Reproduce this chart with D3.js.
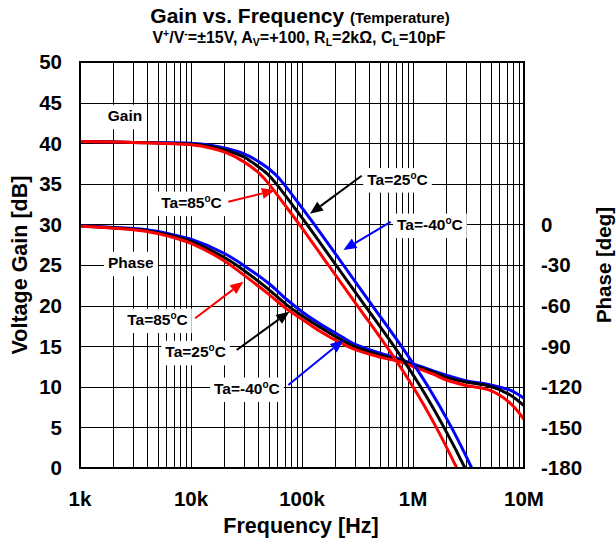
<!DOCTYPE html>
<html>
<head>
<meta charset="utf-8">
<script src="https://cdn.jsdelivr.net/npm/d3@7"></script>
<style>
  body { margin: 0; background: #fff; }
  text { font-family: Arial, "Liberation Sans", sans-serif; font-weight: bold; fill: #000; }
</style>
</head>
<body>
<div id="chart"></div>
<script>
// values
var xTicks = [1e3, 1e4, 1e5, 1e6, 1e7];
var xTickLabels = ["1k", "10k", "100k", "1M", "10M"];
var gainTicks = [0, 5, 10, 15, 20, 25, 30, 35, 40, 45, 50];
var phaseTicks = [0, -30, -60, -90, -120, -150, -180];

// gain curves (Hz, dB)
var gainFreq85 = [1e3, 3e3, 1e4, 1.5e4, 2.1e4, 3e4, 4.19e4, 5.08e4, 7e4, 9.46e4, 1.726e5, 3.15e5, 5.75e5, 1e6, 1.62e6, 2.48e6, 2.75e6];
var gain85 = [40.2, 40.1, 39.8, 39.4, 38.8, 37.7, 36.2, 34.9, 32.4, 30.0, 25.0, 20.0, 15.0, 10.0, 5.0, 0.0, -1.3];
var gainFreq25 = [1e3, 3e3, 1e4, 1.5e4, 2.1e4, 3e4, 3.51e4, 4.9e4, 5.94e4, 8.19e4, 1.107e5, 2.02e5, 3.69e5, 6.73e5, 1.17e6, 1.9e6, 2.94e6, 3.25e6];
var gain25 = [40.2, 40.1, 39.9, 39.6, 39.1, 38.3, 37.7, 36.2, 34.9, 32.4, 30.0, 25.0, 20.0, 15.0, 10.0, 5.0, 0.0, -1.3];
var gainFreqM40 = [1e3, 3e3, 1e4, 1.5e4, 2.1e4, 2.87e4, 4.1e4, 5.72e4, 6.93e4, 9.55e4, 1.29e5, 2.36e5, 4.3e5, 7.85e5, 1.37e6, 2.22e6, 3.38e6, 3.7e6];
var gainM40 = [40.2, 40.1, 40.0, 39.75, 39.35, 38.8, 37.7, 36.2, 34.9, 32.4, 30.0, 25.0, 20.0, 15.0, 10.0, 5.0, 0.0, -1.2];

// phase curves (Hz, deg)
var phaseFreq = [1e3, 2e3, 4e3, 6.5e3, 1e4, 2e4, 3e4, 5e4, 7.28e4, 1e5, 1.45e5, 2.28e5, 2.9e5, 5e5, 7.63e5, 1e6, 1.5e6, 2e6, 3e6, 4.9e6, 7.5e6, 1e7];
var phase85 = [-1.3, -2.8, -5.2, -9, -14, -27, -37.5, -51.5, -62.5, -70, -79, -88, -92, -98, -101.5, -105, -110.5, -115, -119, -122.5, -132, -144];
var phase25 = [-1.1, -2.5, -4.6, -8, -12.5, -24.5, -34, -48, -59.5, -67.5, -76, -85.5, -90, -96.5, -100.5, -104, -109, -113, -116.5, -119.5, -126, -134];
var phaseM40 = [-1, -2.2, -4, -7.2, -11, -21.5, -30.5, -43.5, -55.5, -64.5, -73.5, -83, -88, -95, -99.5, -103, -108, -111.5, -115.5, -118.5, -122.5, -128.5];

var seriesColors = ["#0000ff", "#000000", "#ff0000"];

// annotations: position in (Hz, dB on left axis)
var notes = [
  {text: "Gain", f: 2.54e3, db: 42.7},
  {text: "Phase", f: 2.87e3, db: 24.6},
  {text: "Ta=85", deg: true, color: "#ff0000", f: 1.01e4, db: 32.0, from: [2.17e4, 32.8], tip: [5.71e4, 34.2]},
  {text: "Ta=25", deg: true, color: "#000000", f: 7.25e5, db: 34.9, from: [3.45e5, 36.0], tip: [1.18e5, 31.3]},
  {text: "Ta=-40", deg: true, color: "#0000ff", f: 1.42e6, db: 29.3, from: [6.3e5, 30.3], tip: [2.36e5, 26.85]},
  {text: "Ta=85", deg: true, color: "#ff0000", f: 4.99e3, db: 17.6, from: [1.09e4, 18.44], tip: [2.96e4, 22.94]},
  {text: "Ta=25", deg: true, color: "#000000", f: 1.1e4, db: 13.63, from: [2.58e4, 14.53], tip: [7.69e4, 19.25]},
  {text: "Ta=-40", deg: true, color: "#0000ff", f: 3.19e4, db: 9.11, from: [7.53e4, 10.22], tip: [2.36e5, 15.76]}
];

var svgWidth = 616;
var svgHeight = 545;
var margin = {top: 62, right: 92, bottom: 77, left: 80};
var width = svgWidth - margin.left - margin.right;
var height = svgHeight - margin.top - margin.bottom;

var svg = d3.select("#chart")
  .append("svg")
  .attr("width", svgWidth)
  .attr("height", svgHeight);

var x = d3.scaleLog().domain([1e3, 1e7]).range([0, width]);
var yGain = d3.scaleLinear().domain([0, 50]).range([height, 0]);
// phase axis: -180 deg sits on 0 dB, 0 deg on 30 dB
var yPhase = d3.scaleLinear().domain([-180, 120]).range([height, 0]);

// title
var title = svg.append("text")
  .attr("x", 300)
  .attr("y", 23)
  .attr("text-anchor", "middle");
title.append("tspan").attr("font-size", "21px").text("Gain vs. Frequency ");
title.append("tspan").attr("font-size", "15px").text("(Temperature)");

function richText(sel, parts) {
  var cur = 0;
  parts.forEach(function(p) {
    var target = p[1] == 1 ? -6 : (p[1] == -1 ? 3 : 0);
    sel.append("tspan")
      .attr("dy", target - cur)
      .attr("font-size", p[1] ? "10.5px" : null)
      .text(p[0]);
    cur = target;
  });
}

var sub = svg.append("text")
  .attr("x", 299)
  .attr("y", 43)
  .attr("text-anchor", "middle")
  .attr("font-size", "16px");
richText(sub, [["V", 0], ["+", 1], ["/V", 0], ["-", 1], ["=\u00b115V, A", 0], ["V", -1],
  ["=+100, R", 0], ["L", -1], ["=2k\u03a9, C", 0], ["L", -1], ["=10pF", 0]]);

var chartGroup = svg.append("g")
  .attr("transform", `translate(${margin.left}, ${margin.top})`);

svg.append("defs").append("clipPath").attr("id", "plotclip")
  .append("rect").attr("width", width).attr("height", height);

// grid
var minor = [];
[1e3, 1e4, 1e5, 1e6].forEach(function(d) {
  for (var k = 1; k < 10; k++) minor.push(d * k);
});
minor.push(1e7);

chartGroup.append("g").selectAll("line")
  .data(minor)
  .enter()
  .append("line")
  .attr("x1", d => Math.round(x(d)) + 0.5)
  .attr("x2", d => Math.round(x(d)) + 0.5)
  .attr("y1", 0)
  .attr("y2", height)
  .attr("stroke", "#000")
  .attr("stroke-width", 1);

chartGroup.append("g").selectAll("line")
  .data(gainTicks)
  .enter()
  .append("line")
  .attr("x1", 0)
  .attr("x2", width)
  .attr("y1", d => Math.round(yGain(d)) + 0.5)
  .attr("y2", d => Math.round(yGain(d)) + 0.5)
  .attr("stroke", "#000")
  .attr("stroke-width", 1);

// annotation labels with white boxes
var noteGroup = chartGroup.append("g");
notes.forEach(function(n) {
  var g = noteGroup.append("g");
  var t = g.append("text")
    .attr("x", x(n.f))
    .attr("y", yGain(n.db))
    .attr("text-anchor", "middle")
    .attr("font-size", "15.5px");
  t.append("tspan").text(n.text);
  if (n.deg) {
    t.append("tspan").attr("dy", -6).attr("font-size", "10px").text("o");
    t.append("tspan").attr("dy", 6).text("C");
  }
  var bb = t.node().getBBox();
  g.insert("rect", "text")
    .attr("x", bb.x - 4)
    .attr("y", yGain(n.db) - 16.5)
    .attr("width", bb.width + 8)
    .attr("height", 24.5)
    .attr("fill", "#fff");
});

// curves
var plot = chartGroup.append("g").attr("clip-path", "url(#plotclip)");

function drawCurve(freqs, vals, scale, color) {
  var line = d3.line()
    .x(d => x(d[0]))
    .y(d => scale(d[1]))
    .curve(d3.curveCatmullRom.alpha(0.5));
  plot.append("path")
    .datum(freqs.map((f, i) => [f, vals[i]]))
    .attr("d", line)
    .attr("fill", "none")
    .attr("stroke", color)
    .attr("stroke-width", 3)
    .attr("stroke-linejoin", "round");
}

drawCurve(phaseFreq, phaseM40, yPhase, seriesColors[0]);
drawCurve(phaseFreq, phase25, yPhase, seriesColors[1]);
drawCurve(phaseFreq, phase85, yPhase, seriesColors[2]);
drawCurve(gainFreqM40, gainM40, yGain, seriesColors[0]);
drawCurve(gainFreq25, gain25, yGain, seriesColors[1]);
drawCurve(gainFreq85, gain85, yGain, seriesColors[2]);

// arrows
notes.filter(n => n.tip).forEach(function(n) {
  var x0 = x(n.from[0]), y0 = yGain(n.from[1]);
  var x1 = x(n.tip[0]), y1 = yGain(n.tip[1]);
  var dx = x1 - x0, dy = y1 - y0, len = Math.sqrt(dx * dx + dy * dy);
  var ux = dx / len, uy = dy / len;
  var hl = 13, hw = 5.5;
  var bx = x1 - ux * hl, by = y1 - uy * hl;
  chartGroup.append("line")
    .attr("x1", x0).attr("y1", y0)
    .attr("x2", bx).attr("y2", by)
    .attr("stroke", n.color)
    .attr("stroke-width", 2);
  chartGroup.append("path")
    .attr("d", `M${x1},${y1}L${bx - uy * hw},${by + ux * hw}L${bx + uy * hw},${by - ux * hw}Z`)
    .attr("fill", n.color);
});

// frame
chartGroup.append("rect")
  .attr("width", width)
  .attr("height", height)
  .attr("fill", "none")
  .attr("stroke", "#000")
  .attr("stroke-width", 2);

// axes labels
chartGroup.selectAll(".xlab")
  .data(xTicks)
  .enter()
  .append("text")
  .attr("x", d => x(d))
  .attr("y", height + 38)
  .attr("text-anchor", "middle")
  .attr("font-size", "20.5px")
  .text((d, i) => xTickLabels[i]);

chartGroup.selectAll(".ylab")
  .data(gainTicks)
  .enter()
  .append("text")
  .attr("x", -18)
  .attr("y", d => yGain(d))
  .attr("dy", "0.36em")
  .attr("text-anchor", "end")
  .attr("font-size", "20.5px")
  .text(d => d);

chartGroup.selectAll(".plab")
  .data(phaseTicks)
  .enter()
  .append("text")
  .attr("x", width + 17)
  .attr("y", d => yPhase(d))
  .attr("dy", "0.36em")
  .attr("text-anchor", "start")
  .attr("font-size", "20.5px")
  .text(d => d);

svg.append("text")
  .attr("x", 301)
  .attr("y", 533)
  .attr("text-anchor", "middle")
  .attr("font-size", "21.5px")
  .text("Frequency [Hz]");

svg.append("text")
  .attr("transform", "rotate(-90)")
  .attr("x", -(margin.top + height / 2))
  .attr("y", 27)
  .attr("text-anchor", "middle")
  .attr("font-size", "21.5px")
  .text("Voltage Gain [dB]");

svg.append("text")
  .attr("transform", "rotate(-90)")
  .attr("x", -(margin.top + height / 2))
  .attr("y", 611)
  .attr("text-anchor", "middle")
  .attr("font-size", "20.5px")
  .text("Phase [deg]");
</script>
</body>
</html>
